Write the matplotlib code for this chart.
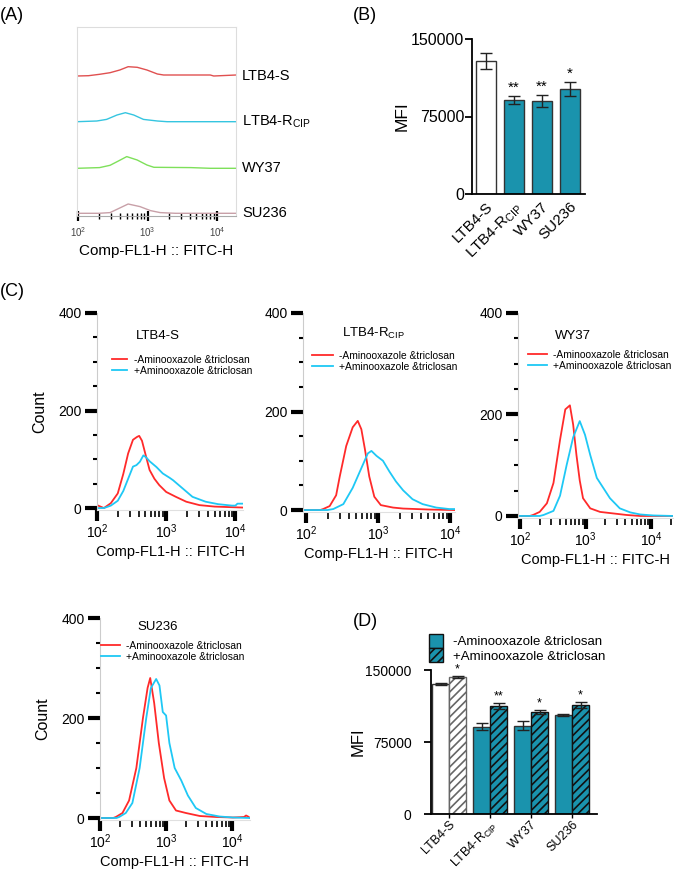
import numpy as np
import matplotlib
matplotlib.use("Agg")
import matplotlib.pyplot as plt
from matplotlib.ticker import FixedLocator, LogLocator, NullFormatter
from matplotlib.patches import Patch

plt.rcParams['font.family'] = ['Liberation Sans', 'DejaVu Sans']
plt.rcParams['mathtext.fontset'] = 'custom'
plt.rcParams['mathtext.rm'] = 'Liberation Sans'
plt.rcParams['mathtext.it'] = 'Liberation Sans:italic'
plt.rcParams['mathtext.default'] = 'regular'
plt.rcParams['hatch.linewidth'] = 1.2

W, H = 675, 874
TEAL = '#1a93ad'
RED = '#ff2a2a'
CYAN = '#1ec8f5'

# ---------------- data ----------------
strains = ['LTB4-S', r'LTB4-R$_{\mathrm{CIP}}$', 'WY37', 'SU236']

# Panel A: overlaid histograms (log10 FITC-H, relative height)
A_red_x = [1.985, 2.15, 2.31, 2.46, 2.6, 2.72, 2.85, 2.99, 3.14, 3.23, 3.9, 3.95, 4.27]
A_red_y = [0, 0.3, 1.7, 3.3, 6, 9.3, 8.7, 6, 2, 1, 1, 0, 1]
A_cyan_x = [1.985, 2.27, 2.41, 2.56, 2.68, 2.8, 2.94, 3.14, 3.28, 4.27]
A_cyan_y = [0, 0.7, 2.3, 6.7, 9, 6.7, 2.3, 0.7, 0, 0]
A_green_x = [1.985, 2.31, 2.46, 2.58, 2.7, 2.85, 2.99, 3.09, 3.62, 3.9, 4.27]
A_green_y = [0, 0.7, 3, 7.3, 11.7, 8.3, 3.3, 1, 0.7, 0, 0]
A_pink_x = [1.985, 2.3, 2.46, 2.56, 2.72, 2.89, 3.04, 3.18, 3.4, 4.27]
A_pink_y = [0, 0, 0.7, 4, 9.3, 6.7, 2.7, 0.7, 0, 0]

# Panel B: MFI
B_mfi = [128500, 91000, 90000, 101500]
B_err = [8000, 4000, 6000, 7000]
B_star = ['', '**', '**', '*']

# Panel C: histograms (log10 FITC-H, count)
C1_red_x = [2.0, 2.05, 2.1, 2.2, 2.3, 2.38, 2.45, 2.52, 2.58, 2.61, 2.65, 2.71, 2.76, 2.83, 2.9, 3.0, 3.14, 3.29, 3.48, 3.7, 3.9, 4.11]
C1_red_y = [6, 3, 0, 10, 30, 70, 112, 140, 146, 148, 138, 105, 78, 60, 47, 33, 23, 13, 6, 3, 2, 1]
C1_cyan_x = [2.0, 2.1, 2.2, 2.3, 2.38, 2.45, 2.52, 2.57, 2.62, 2.67, 2.71, 2.76, 2.86, 2.95, 3.05, 3.1, 3.24, 3.38, 3.57, 3.75, 3.95, 4.0, 4.03, 4.11]
C1_cyan_y = [0, 0, 5, 15, 35, 60, 85, 88, 95, 108, 104, 96, 84, 71, 62, 57, 40, 23, 13, 8, 5, 5, 9, 9]

C2_red_x = [1.96, 2.2, 2.24, 2.33, 2.42, 2.47, 2.56, 2.65, 2.72, 2.77, 2.82, 2.88, 2.95, 3.04, 3.21, 3.35, 3.71, 4.07]
C2_red_y = [0, 0, 2, 8, 30, 68, 130, 168, 181, 164, 123, 68, 27, 10, 5, 3, 1, 0]
C2_cyan_x = [1.96, 2.3, 2.38, 2.52, 2.65, 2.77, 2.86, 2.91, 2.98, 3.07, 3.16, 3.25, 3.35, 3.48, 3.62, 3.81, 3.99, 4.07]
C2_cyan_y = [0, 0, 2, 12, 45, 85, 115, 120, 110, 100, 78, 58, 40, 22, 12, 5, 2, 2]

C3_red_x = [1.97, 2.15, 2.2, 2.3, 2.41, 2.51, 2.61, 2.69, 2.76, 2.81, 2.86, 2.91, 2.96, 3.07, 3.22, 3.42, 3.62, 3.83, 4.33]
C3_red_y = [0, 0, 2, 8, 25, 65, 150, 210, 218, 180, 120, 70, 35, 15, 8, 5, 2, 0, 0]
C3_cyan_x = [1.97, 2.3, 2.36, 2.51, 2.61, 2.71, 2.81, 2.91, 2.99, 3.07, 3.17, 3.27, 3.37, 3.52, 3.68, 3.83, 4.03, 4.33]
C3_cyan_y = [0, 0, 2, 10, 40, 100, 155, 187, 160, 120, 75, 55, 35, 15, 7, 3, 1, 0]

C4_red_x = [2.0, 2.2, 2.24, 2.34, 2.44, 2.55, 2.65, 2.72, 2.76, 2.82, 2.89, 2.97, 3.05, 3.15, 3.3, 3.51, 3.76, 4.01, 4.18, 4.21, 4.24, 4.27]
C4_red_y = [0, 0, 2, 10, 35, 100, 200, 260, 280, 230, 150, 80, 35, 15, 10, 4, 2, 1, 2, 5, 3, 0]
C4_cyan_x = [2.0, 2.25, 2.29, 2.39, 2.49, 2.6, 2.7, 2.77, 2.85, 2.9, 2.95, 3.0, 3.05, 3.13, 3.23, 3.33, 3.45, 3.61, 3.81, 4.01, 4.27]
C4_cyan_y = [0, 0, 2, 10, 30, 100, 200, 260, 278, 265, 212, 205, 150, 100, 75, 45, 20, 8, 3, 1, 0]

C_legend = ['-Aminooxazole &triclosan', '+Aminooxazole &triclosan']

# Panel D: MFI with / without treatment
D_minus = [135700, 91000, 92000, 103000]
D_minus_err = [1000, 4000, 5000, 1200]
D_plus = [142700, 112800, 106600, 113500]
D_plus_err = [1500, 3000, 2000, 3000]
D_star = ['*', '**', '*', '*']


def px(l, t, r, b):
    return [l / W, 1 - b / H, (r - l) / W, (b - t) / H]


fig = plt.figure(figsize=(W / 100, H / 100), dpi=100)

# panel letters
for lab, x, y in [('(A)', 0, 15), ('(B)', 353, 15), ('(C)', 0, 292), ('(D)', 353, 622)]:
    fig.text(x / W, 1 - y / H, lab, fontsize=13, va='center', ha='left')

# ---------------- Panel A ----------------
axA = fig.add_axes(px(77, 27, 236, 216))
A_series = [(A_red_x, A_red_y, '#e05050', 140),
            (A_cyan_x, A_cyan_y, '#35c5e0', 94.3),
            (A_green_x, A_green_y, '#7ee05a', 47.7),
            (A_pink_x, A_pink_y, '#c8a0a8', 2.7)]
for xs, ys, c, off in A_series:
    axA.plot(10 ** np.array(xs), np.array(ys) + off, color=c, lw=1.0)
axA.set_xscale('log')
axA.set_xlim(10 ** 1.985, 10 ** 4.27)
axA.set_ylim(0, 189)
axA.set_yticks([])
for s in ['left', 'right', 'top']:
    axA.spines[s].set_color('#dddddd')
    axA.spines[s].set_linewidth(0.8)
axA.spines['bottom'].set_color('#aaaaaa')
axA.spines['bottom'].set_linewidth(0.8)
axA.xaxis.set_major_locator(LogLocator(base=10))
axA.xaxis.set_minor_locator(LogLocator(base=10, subs=np.arange(2, 10)))
axA.xaxis.set_minor_formatter(NullFormatter())
axA.tick_params(axis='x', which='major', direction='inout', length=7, width=1.6, labelsize=7, labelcolor='#444', pad=3)
axA.tick_params(axis='x', which='minor', direction='inout', length=4, width=1.0)
axA.set_xlabel('Comp-FL1-H :: FITC-H', fontsize=11, labelpad=4)
for lab, y in zip(strains, [76, 122, 168, 213]):
    fig.text(242 / W, 1 - y / H, lab, fontsize=10.5, va='center', ha='left')

# ---------------- Panel B ----------------
axB = fig.add_axes(px(472, 39, 585, 194))
xb = np.arange(len(B_mfi))
axB.bar(xb, B_mfi, width=0.7, color=['white', TEAL, TEAL, TEAL], edgecolor='#333333', linewidth=1.0,
        yerr=B_err, error_kw=dict(elinewidth=1.0, capsize=4, capthick=1.0, ecolor='#222222'))
for i in range(len(B_mfi)):
    if B_star[i]:
        axB.text(xb[i], B_mfi[i] + B_err[i] + 800, B_star[i], ha='center', va='bottom', fontsize=11)
axB.set_xlim(-0.49, 3.54)
axB.set_ylim(0, 150000)
axB.set_yticks([0, 75000, 150000])
axB.set_yticklabels(['0', '75000', '150000'])
axB.set_xticks(xb)
axB.set_xticklabels(strains, rotation=45, ha='right', rotation_mode='anchor', fontsize=11)
axB.tick_params(axis='x', length=0, pad=4)
axB.tick_params(axis='y', length=5, width=1.3, labelsize=11.5, pad=0.5)
for s in ['top', 'right']:
    axB.spines[s].set_visible(False)
for s in ['left', 'bottom']:
    axB.spines[s].set_linewidth(1.3)
axB.set_ylabel('MFI', fontsize=12.5, labelpad=1)


# ---------------- Panel C ----------------
def hist_panel(rect, xlim, ylim, red, cyan, title, tpos, lpos, hlen, ylabel):
    ax = fig.add_axes(px(*rect))
    ax.plot(10 ** np.array(red[0]), red[1], color=RED, lw=1.3, label=C_legend[0])
    ax.plot(10 ** np.array(cyan[0]), cyan[1], color=CYAN, lw=1.3, label=C_legend[1])
    ax.set_xscale('log')
    ax.set_xlim(10 ** xlim[0], 10 ** xlim[1])
    ax.set_ylim(*ylim)
    ax.yaxis.set_major_locator(FixedLocator([0, 200, 400]))
    ax.yaxis.set_minor_locator(FixedLocator([50, 100, 150, 250, 300, 350]))
    ax.xaxis.set_major_locator(LogLocator(base=10))
    ax.xaxis.set_minor_locator(LogLocator(base=10, subs=np.arange(2, 10)))
    ax.xaxis.set_minor_formatter(NullFormatter())
    ax.tick_params(axis='y', which='major', length=9, width=3, labelsize=10, pad=2)
    ax.tick_params(axis='y', which='minor', length=3, width=1.5)
    ax.tick_params(axis='x', which='major', length=8, width=3, labelsize=10, pad=1)
    ax.tick_params(axis='x', which='minor', length=5, width=1.2)
    for s in ['top', 'right']:
        ax.spines[s].set_visible(False)
    ax.spines['left'].set_color('#cccccc')
    ax.spines['left'].set_linewidth(0.8)
    ax.spines['bottom'].set_color('#e0e0e0')
    ax.spines['bottom'].set_linewidth(0.8)
    ax.set_xlabel('Comp-FL1-H :: FITC-H', fontsize=10.5, labelpad=3)
    if ylabel:
        ax.set_ylabel('Count', fontsize=11.5, labelpad=8)
    fig.text(tpos[0] / W, 1 - tpos[1] / H, title, fontsize=9.5, va='center', ha='left')
    ax.legend(loc='upper left', bbox_to_anchor=(lpos[0] / W, 1 - lpos[1] / H), bbox_transform=fig.transFigure,
              frameon=False, fontsize=7.4, handlelength=hlen, handletextpad=0.6, borderpad=0, borderaxespad=0,
              labelspacing=0.1)
    return ax


hist_panel((97, 313, 243, 510), (2.0, 4.11), (-4, 400), (C1_red_x, C1_red_y), (C1_cyan_x, C1_cyan_y),
           'LTB4-S', (136, 336), (112, 355), 1.5, True)
hist_panel((303, 313, 455, 512), (1.96, 4.07), (-4, 400), (C2_red_x, C2_red_y), (C2_cyan_x, C2_cyan_y),
           r'LTB4-R$_{\mathrm{CIP}}$', (342, 333), (312, 351), 2.0, False)
hist_panel((518, 313, 673, 518), (1.97, 4.33), (-4, 400), (C3_red_x, C3_red_y), (C3_cyan_x, C3_cyan_y),
           'WY37', (555, 336), (528, 350), 1.8, False)
hist_panel((100, 618, 250, 820), (2.0, 4.27), (-4, 400), (C4_red_x, C4_red_y), (C4_cyan_x, C4_cyan_y),
           'SU236', (137, 627), (101, 641), 1.8, True)

# ---------------- Panel D ----------------
axD = fig.add_axes(px(431, 670, 597, 814))
xd = np.arange(len(D_minus))
w = 0.415
ekw = dict(elinewidth=1.0, capsize=4, capthick=1.0, ecolor='#222222')
axD.bar(xd - w / 2, D_minus, width=w, color=['white', TEAL, TEAL, TEAL], edgecolor='#333333', linewidth=1.0,
        yerr=D_minus_err, error_kw=ekw)
axD.bar(xd + w / 2, D_plus, width=w, color=['white', TEAL, TEAL, TEAL],
        edgecolor=['#666666', '#111111', '#111111', '#111111'], linewidth=1.0, hatch='////',
        yerr=D_plus_err, error_kw=ekw)
for i in range(len(D_plus)):
    axD.text(xd[i] + w / 2, D_plus[i] + D_plus_err[i] + 500, D_star[i], ha='center', va='bottom', fontsize=9)
axD.set_xlim(-0.44, 3.61)
axD.set_ylim(0, 150000)
axD.set_yticks([0, 75000, 150000])
axD.set_yticklabels(['0', '75000', '150000'])
axD.set_xticks(xd)
axD.set_xticklabels(strains, rotation=45, ha='right', rotation_mode='anchor', fontsize=9)
axD.tick_params(axis='x', length=3, width=1.0, pad=0.5)
axD.tick_params(axis='y', length=5, width=1.3, labelsize=10, pad=9)
for s in ['top', 'right']:
    axD.spines[s].set_visible(False)
for s in ['left', 'bottom']:
    axD.spines[s].set_linewidth(1.3)
axD.set_ylabel('MFI', fontsize=12, labelpad=0)
handles = [Patch(facecolor=TEAL, edgecolor='#111111', linewidth=1.0),
           Patch(facecolor=TEAL, edgecolor='#111111', linewidth=1.0, hatch='////')]
axD.legend(handles, C_legend, loc='upper left', bbox_to_anchor=(429 / W, 1 - 634 / H),
           bbox_transform=fig.transFigure, frameon=False, fontsize=9.5, handlelength=1.05, handleheight=1.25,
           handletextpad=0.8, borderpad=0, borderaxespad=0, labelspacing=0.0)

fig.savefig('out.png', dpi=100)
